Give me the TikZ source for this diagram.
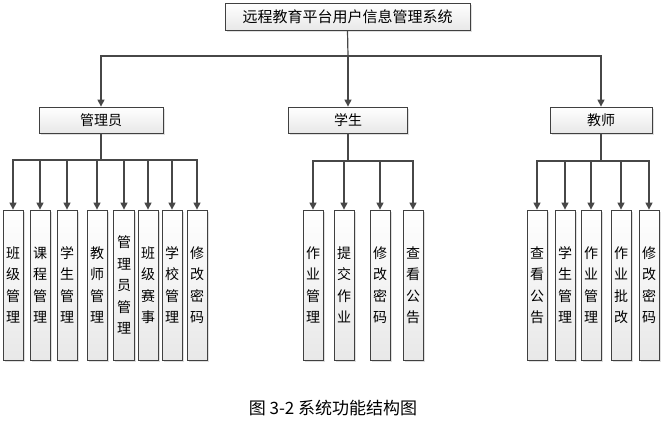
\documentclass[tikz,border=0pt]{standalone}
\usepackage{fontspec}
\newfontfamily\cjk{Noto Sans CJK SC}
\usetikzlibrary{arrows.meta,shadows}
\begin{document}
\begin{tikzpicture}[x=1pt,y=-1pt,
  box/.style={draw=black!75, line width=0.8pt, top color=white, bottom color=black!9,
    drop shadow={shadow xshift=1.6pt,shadow yshift=-1.6pt,opacity=0.25},
    font=\cjk\fontsize{14pt}{17pt}\selectfont, inner sep=0pt, align=center},
  leaf/.style={box, minimum width=20pt, minimum height=150pt, text width=20pt,
    font=\cjk\fontsize{14pt}{21.5pt}\selectfont},
  line/.style={draw=black!72, line width=1.2pt},
  arr/.style={line, -{Triangle[width=7pt,length=7pt]}}]
\useasboundingbox (0,0) rectangle (667,429);

% top
\node[box, minimum width=245pt, minimum height=27pt, font=\cjk\fontsize{15pt}{18pt}\selectfont] (sys) at (347.5,16.5) {远程教育平台用户信息管理系统};

% level 2
\node[box, minimum width=124pt, minimum height=26pt] (adm) at (101,120) {管理员};
\node[box, minimum width=119pt, minimum height=26pt] (stu) at (348,120) {学生};
\node[box, minimum width=102pt, minimum height=26pt] (tea) at (601,120) {教师};

% admin leaves
\node[leaf] (a1) at (13,285) {班\\级\\管\\理};
\node[leaf] (a2) at (40,285) {课\\程\\管\\理};
\node[leaf] (a3) at (67,285) {学\\生\\管\\理};
\node[leaf] (a4) at (97,285) {教\\师\\管\\理};
\node[leaf, minimum width=21pt] (a5) at (124,285) {管\\理\\员\\管\\理};
\node[leaf] (a6) at (148,285) {班\\级\\赛\\事};
\node[leaf] (a7) at (172,285) {学\\校\\管\\理};
\node[leaf] (a8) at (197,285) {修\\改\\密\\码};

% student leaves
\node[leaf] (s1) at (313,285) {作\\业\\管\\理};
\node[leaf] (s2) at (344,285) {提\\交\\作\\业};
\node[leaf] (s3) at (380,285) {修\\改\\密\\码};
\node[leaf] (s4) at (413,285) {查\\看\\公\\告};

% teacher leaves
\node[leaf] (t1) at (537,285) {查\\看\\公\\告};
\node[leaf] (t2) at (565,285) {学\\生\\管\\理};
\node[leaf] (t3) at (591,285) {作\\业\\管\\理};
\node[leaf] (t4) at (621,285) {作\\业\\批\\改};
\node[leaf] (t5) at (649,285) {修\\改\\密\\码};

% caption
\node[font=\cjk\fontsize{17pt}{20pt}\selectfont, inner sep=0pt] (cap) at (333,408) {图 3-2 系统功能结构图};

% connectors: top level
\coordinate (tb) at (348,56);
\draw[line] (sys.south) -- (tb);
\draw[arr] (tb) -| (adm.north);
\draw[arr] (tb) -- (stu.north);
\draw[arr] (tb) -| (tea.north);

% admin bus
\coordinate (ab) at (101,160);
\draw[line] (adm.south) -- (ab);
\foreach \n in {a1,a2,a3,a4,a5,a6,a7,a8} \draw[arr] (ab) -| (\n.north);

% student bus
\coordinate (sb) at (348,161);
\draw[line] (stu.south) -- (sb);
\foreach \n in {s1,s2,s3,s4} \draw[arr] (sb) -| (\n.north);

% teacher bus
\coordinate (teb) at (601,161);
\draw[line] (tea.south) -- (teb);
\foreach \n in {t1,t2,t3,t4,t5} \draw[arr] (teb) -| (\n.north);
\end{tikzpicture}
\end{document}
